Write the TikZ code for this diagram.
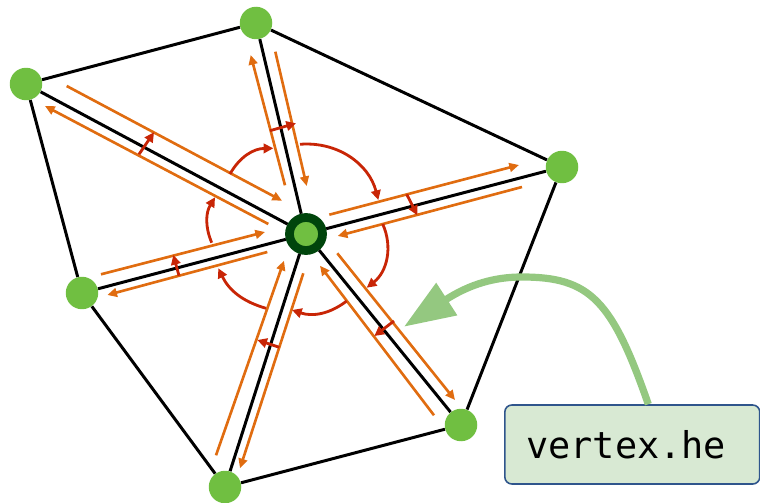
\documentclass[tikz,border=0pt]{standalone}
\usepackage{fontspec}
\setmonofont{DejaVu Sans Mono}
\usetikzlibrary{arrows.meta}
\definecolor{meshgreen}{RGB}{112,191,65}
\definecolor{darkgreen}{RGB}{0,69,12}
\definecolor{heorange}{RGB}{224,108,16}
\definecolor{hered}{RGB}{200,37,6}
\definecolor{boxfill}{RGB}{216,233,211}
\definecolor{boxline}{RGB}{47,85,140}
\definecolor{calloutgreen}{RGB}{148,200,128}
\tikzset{
  vertexdot/.style={circle,fill=meshgreen,inner sep=0pt,minimum size=0.65cm},
  centerdot/.style={vertexdot,draw=darkgreen,line width=5pt,minimum size=0.66cm},
  meshedge/.style={black,line width=1.7pt},
  halfedge/.style={heorange,line width=1.5pt,-{Triangle[length=5.5pt,width=5pt]}},
  heturn/.style={hered,line width=1.6pt,-{Triangle[length=5.5pt,width=5.4pt]}},
  labelbox/.style={draw=boxline,fill=boxfill,line width=0.9pt,rounded corners=4pt,
    minimum width=5.1cm,minimum height=1.58cm,font=\ttfamily\fontsize{21}{21}\selectfont},
  callout/.style={calloutgreen,line width=4.1pt,-{Triangle[length=29pt,width=21pt]}}
}
\begin{document}
\begin{tikzpicture}[x=0.02cm,y=-0.02cm]
        \useasboundingbox (0,0) rectangle (760,503);
        % mesh vertices
        \node[centerdot] (center) at (306,234) {};
        \node[vertexdot] (north) at (256,23) {};
        \node[vertexdot] (northwest) at (26,84) {};
        \node[vertexdot] (west) at (82,293) {};
        \node[vertexdot] (south) at (225,487) {};
        \node[vertexdot] (southeast) at (461,425) {};
        \node[vertexdot] (east) at (562,167) {};
        % mesh edges
        \foreach \from/\to in {north/northwest,northwest/west,west/south,south/southeast,southeast/east,east/north,
          center/north,center/northwest,center/west,center/south,center/southeast,center/east}
          \draw[meshedge] (\from) -- (\to);
        % halfedges
        \foreach \he/\ax/\ay/\bx/\by in {
          nwin/66.7/86/282/200.7, nwout/268.3/224/45/106,
          nout/285/185.3/250.7/55, nin/275.3/51.7/306.7/186,
          eout/329.3/214.7/519/165, ein/522/187/337.7/236,
          seout/337.3/253.3/455/400, sein/434/415.3/320/265.7,
          sin/216/455.3/284/260.7, sout/303.3/273.3/240/468.3,
          win/101/274.3/265/232, wout/267.3/252/107.3/295} {
          \coordinate (\he a) at (\ax,\ay);
          \coordinate (\he b) at (\bx,\by);
          \draw[halfedge] (\he a) -- (\he b);
        }
        % twin arrows
        \foreach \he/\ax/\ay/\bx/\by in {
          nwtwin/139/154.3/154/132.3, ntwin/270/130.7/296/123.3,
          etwin/406.7/194.3/417.3/215.3, setwin/394/321/374.3/336,
          stwin/279.3/347.3/257.3/340, wtwin/179/275.7/173.3/255} {
          \coordinate (\he a) at (\ax,\ay);
          \coordinate (\he b) at (\bx,\by);
          \draw[heturn] (\he a) -- (\he b);
        }
        % next arrows
        \foreach \he/\ax/\ay/\bx/\by/\bend in {
          nwnext/230/174/273.3/148.3/30, nnext/300/144.3/378.3/200/40,
          enext/382.7/224/366.7/287.7/38, senext/346.7/301/292/310/28,
          snext/266/308.3/218.3/268.3/24, wnext/211.7/242.7/215/197.3/27} {
          \coordinate (\he a) at (\ax,\ay);
          \coordinate (\he b) at (\bx,\by);
          \draw[heturn] (\he a) to[bend left=\bend] (\he b);
        }
        % label
        \node[labelbox] (label) at (632.3,444.5) {vertex.he\kern 7pt};
        \coordinate (pointer) at (404,326.7);
        \draw[callout] ([xshift=0.32cm]label.north) .. controls (612,300) and (590,277) .. (522,277)
          .. controls (495,277) and (470,284) .. (pointer);
      \end{tikzpicture}
\end{document}
